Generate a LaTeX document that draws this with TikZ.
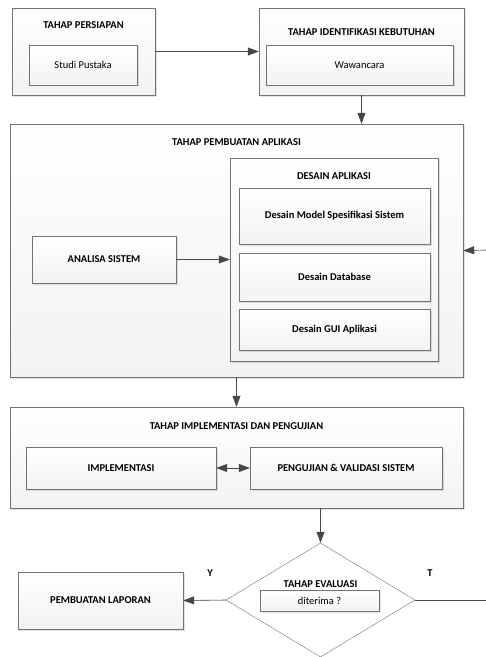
\documentclass[tikz,border=0pt]{standalone}
\usepackage{fontspec}
\setmainfont{Carlito}
\usetikzlibrary{arrows.meta,shapes.geometric,shadows}
\colorlet{garis}{black!72}

\begin{document}
\begin{tikzpicture}[x=1bp,y=-1bp,>={Triangle[length=11bp,width=8bp]},
    font=\fontsize{10.5bp}{12bp}\selectfont,
    kotak/.style={draw=black!55,top color=white,bottom color=black!5,
      drop shadow={shadow xshift=1.5bp,shadow yshift=-1.5bp,fill=black,opacity=.12},
      inner sep=0pt},
    judul/.style={font=\fontsize{10.5bp}{12bp}\selectfont\bfseries},
    panah/.style={->,draw=garis,fill=garis,semithick}]
  \useasboundingbox (0,0) rectangle (486,657);
  % tahap persiapan dan identifikasi
  \node[kotak,minimum width=143bp,minimum height=87bp](persiapan) at (83.5,51.5){};
  \node[judul](tpersiapan) at (83.5,25){TAHAP PERSIAPAN};
  \node[kotak,minimum width=108bp,minimum height=40bp](studi) at (83,65){Studi Pustaka};
  \node[kotak,minimum width=205bp,minimum height=87bp](identifikasi) at (361.5,51.5){};
  \node[judul](tidentifikasi) at (361.5,32){TAHAP IDENTIFIKASI KEBUTUHAN};
  \node[kotak,minimum width=187bp,minimum height=40bp](wawancara) at (359.5,65){Wawancara};
  % tahap pembuatan aplikasi
  \node[kotak,minimum width=453bp,minimum height=253bp](pembuatan) at (236.5,250.5){};
  \node[judul](tpembuatan) at (236.5,142){TAHAP PEMBUATAN APLIKASI};
  \node[kotak,judul,minimum width=144bp,minimum height=47bp](analisa) at (104,259.5){ANALISA SISTEM};
  \node[kotak,minimum width=208bp,minimum height=203bp](desain) at (334,259.5){};
  \node[judul](tdesain) at (334,176){DESAIN APLIKASI};
  \node[kotak,judul,minimum width=191bp,minimum height=56bp](model) at (334.5,216){Desain Model Spesifikasi Sistem};
  \node[kotak,judul,minimum width=191bp,minimum height=48bp](database) at (334.5,277){Desain Database};
  \node[kotak,judul,minimum width=191bp,minimum height=41bp](gui) at (334.5,329.5){Desain GUI Aplikasi};
  % tahap implementasi dan pengujian
  \node[kotak,minimum width=453bp,minimum height=101bp](implpengujian) at (236.5,457.5){};
  \node[judul](timpl) at (236.5,426){TAHAP IMPLEMENTASI DAN PENGUJIAN};
  \node[kotak,judul,minimum width=190bp,minimum height=42bp](implementasi) at (121,468){IMPLEMENTASI};
  \node[kotak,judul,minimum width=192bp,minimum height=42bp](pengujian) at (346,468){PENGUJIAN \& VALIDASI SISTEM};
  % tahap evaluasi
  \node[diamond,draw=black!55,fill=white,inner sep=0pt,minimum width=189bp,minimum height=114bp](evaluasi) at (320.5,600){};
  \node[judul](tevaluasi) at (320.5,584){TAHAP EVALUASI};
  \node[kotak,minimum width=119bp,minimum height=21bp](diterima) at (319.5,600.5){diterima ?};
  \node[kotak,judul,minimum width=165bp,minimum height=57bp](laporan) at (100.5,600.5){PEMBUATAN LAPORAN};
  \node[judul](ya) at (210,573){Y};
  \node[judul](tidak) at (430,573){T};
  \coordinate (masuk) at (486,250);
  \coordinate (keluar) at (486,600);
  % panah
  \draw[panah](persiapan.east)--(identifikasi.west);
  \draw[panah](identifikasi.south)--(identifikasi.south|-pembuatan.north);
  \draw[panah](masuk)--(pembuatan.east);
  \draw[panah](analisa.east)--(desain.west);
  \draw[panah](pembuatan.south)--(implpengujian.north);
  \draw[panah,<->](implementasi.east)--(pengujian.west);
  \draw[panah](implpengujian.south-|evaluasi.north)--(evaluasi.north);
  \draw[panah](evaluasi.west)--(laporan.east);
  \draw[draw=garis,semithick](evaluasi.east)--(keluar);
\end{tikzpicture}
\end{document}
